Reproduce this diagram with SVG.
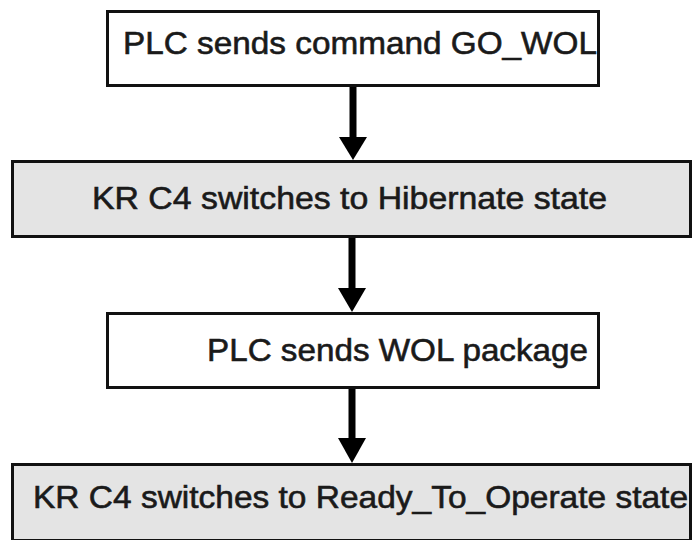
<svg xmlns="http://www.w3.org/2000/svg" width="695" height="540" viewBox="0 0 695 540">
<style>
.box{stroke:#111;stroke-width:3}
.w{fill:#fff}
.g{fill:#e4e4e4}
.t{font-family:"Liberation Sans",Arial,sans-serif;font-size:32px;fill:#1a1a1a;stroke:#1a1a1a;stroke-width:0.6}
.ln{stroke:#000;stroke-width:7;fill:none}
.hd{fill:#000}
</style>
<rect width="695" height="540" fill="#fff"/>
<g id="n1">
<rect class="box w" x="107.5" y="11.5" width="491" height="74"/>
<text class="t" x="123" y="54" textLength="474" lengthAdjust="spacingAndGlyphs">PLC sends command GO_WOL</text>
</g>
<g id="n2">
<rect class="box g" x="12.5" y="161.5" width="678" height="75"/>
<text class="t" x="92" y="209" textLength="515" lengthAdjust="spacingAndGlyphs">KR C4 switches to Hibernate state</text>
</g>
<g id="n3">
<rect class="box w" x="107.5" y="313.5" width="491" height="74"/>
<text class="t" x="207" y="361" textLength="381" lengthAdjust="spacingAndGlyphs">PLC sends WOL package</text>
</g>
<g id="n4">
<rect class="box g" x="12.5" y="464.5" width="678" height="76"/>
<text class="t" x="33" y="508" textLength="655" lengthAdjust="spacingAndGlyphs">KR C4 switches to Ready_To_Operate state</text>
</g>
<g id="connectors">
<line class="ln" x1="353" y1="87" x2="353" y2="140"/>
<polygon class="hd" points="339,137 367,137 353,160"/>
<line class="ln" x1="352" y1="238" x2="352" y2="291"/>
<polygon class="hd" points="338,288 366,288 352,312"/>
<line class="ln" x1="352" y1="389" x2="352" y2="441"/>
<polygon class="hd" points="338,438 366,438 352,463"/>
</g>
</svg>
